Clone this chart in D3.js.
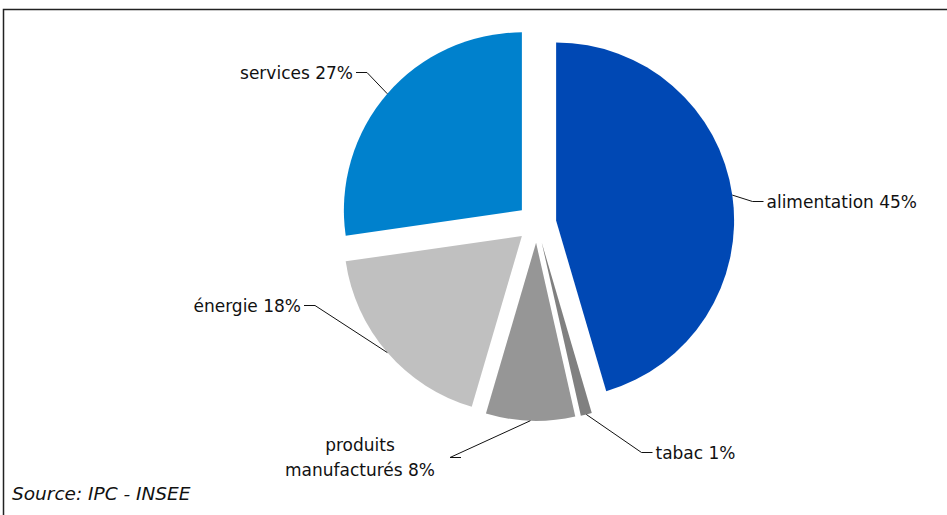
<!DOCTYPE html>
<html>
<head>
<meta charset="utf-8">
<script src="https://cdn.jsdelivr.net/npm/d3@7"></script>
<style>
  html, body { margin: 0; padding: 0; background: #fff; }
  svg { display: block; }
  text { font-family: "DejaVu Sans", Verdana, sans-serif; fill: #111; }
</style>
</head>
<body>
<svg id="chart" width="947" height="515"></svg>
<script>
// Répartition par poste (%)
const categories = ["alimentation", "tabac", "produits manufacturés", "énergie", "services"];
const shares = [45, 1, 8, 18, 27];
const colors = ["#0048B4", "#808080", "#969696", "#C0C0C0", "#0081CD"];
const labelLines = [["alimentation 45%"], ["tabac 1%"], ["produits", "manufacturés 8%"], ["énergie 18%"], ["services 27%"]];
const sourceNote = "Source: IPC - INSEE";

// Label placement: elbow point of each leader line, side of the text
const labelLayout = [
  { elbow: [752.5, 201.5], side: "right" },
  { elbow: [641.5, 452.5], side: "right" },
  { elbow: [450, 457.5], side: "center" },
  { elbow: [315, 305.5], side: "left" },
  { elbow: [367, 72.5], side: "left" }
];

const W = 947, H = 515;
const cx = 536.7, cy = 223.2;
const radius = 178;
const explode = 19.6;

const svg = d3.select("#chart");

// Frame
svg.append("path")
  .attr("d", `M3.5,${H + 5} V9.5 H${W + 5}`)
  .attr("fill", "none")
  .attr("stroke", "#222")
  .attr("stroke-width", 1.5);

const pie = d3.pie().sort(null).value(d => d);
const arcs = pie(shares);
const arc = d3.arc().innerRadius(0).outerRadius(radius);

const g = svg.append("g").attr("transform", `translate(${cx},${cy})`);

function offsetOf(a) {
  const m = (a.startAngle + a.endAngle) / 2;
  return [Math.sin(m) * explode, -Math.cos(m) * explode];
}

g.selectAll("path.slice")
  .data(arcs)
  .join("path")
  .attr("class", "slice")
  .attr("transform", d => { const o = offsetOf(d); return `translate(${o[0]},${o[1]})`; })
  .attr("d", arc)
  .attr("fill", (d, i) => colors[i]);

// Leader lines and labels
arcs.forEach((a, i) => {
  const m = (a.startAngle + a.endAngle) / 2;
  const o = offsetOf(a);
  const sx = cx + o[0] + Math.sin(m) * radius;
  const sy = cy + o[1] - Math.cos(m) * radius;
  const L = labelLayout[i];
  const [ex, ey] = L.elbow;
  const hx = L.side === "left" ? ex - 11 : ex + 11;
  svg.append("polyline")
    .attr("points", `${sx},${sy} ${ex},${ey} ${hx},${ey}`)
    .attr("fill", "none")
    .attr("stroke", "#111")
    .attr("stroke-width", 1);

  const lines = labelLines[i];
  let tx, anchor;
  if (L.side === "left") { tx = hx - 3; anchor = "end"; }
  else if (L.side === "right") { tx = hx + 3; anchor = "start"; }
  else { tx = 360; anchor = "middle"; }
  const lh = 25;
  const firstBaseline = ey + 6 - (lines.length - 1) * lh / 2;
  const t = svg.append("text")
    .attr("text-anchor", anchor)
    .style("font-size", "17px");
  lines.forEach((s, k) => {
    t.append("tspan").attr("x", tx).attr("y", firstBaseline + k * lh).text(s);
  });
});

svg.append("text")
  .attr("x", 12)
  .attr("y", 500)
  .style("font-size", "18.5px")
  .style("font-style", "italic")
  .text(sourceNote);
</script>
</body>
</html>
